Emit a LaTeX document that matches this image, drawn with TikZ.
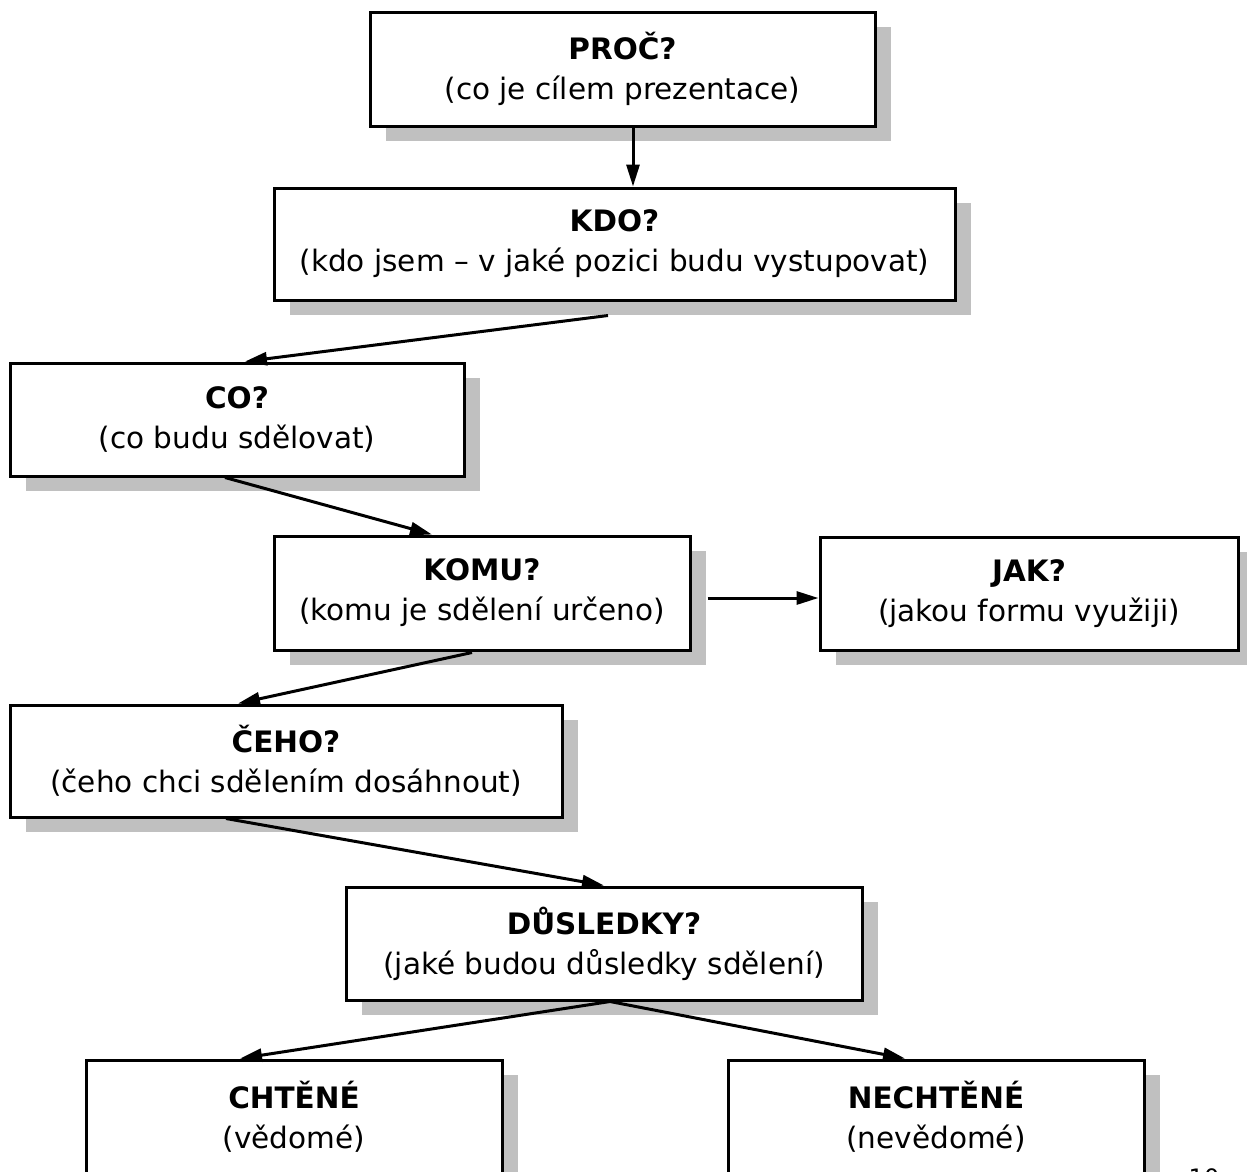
\documentclass[tikz,border=0pt]{standalone}
\usepackage{fontspec}
\setmainfont{DejaVu Sans}
\usetikzlibrary{calc,shadows,arrows.meta}
\definecolor{shadowgray}{HTML}{C0C0C0}
\tikzset{
  qbox/.style={draw=black, line width=3pt, fill=white, inner sep=0pt,
    align=center, font=\fontsize{29.5}{40}\selectfont,
    drop shadow={shadow xshift=16pt, shadow yshift=-15pt, fill=shadowgray, opacity=1}},
  conn/.style={line width=3pt, -{Triangle[length=22pt,width=13pt]}},
}
\begin{document}
\begin{tikzpicture}[x=1pt,y=-1pt]
\useasboundingbox (0,0) rectangle (1247,1171);
\clip (0,0) rectangle (1247,1171);
\node[qbox, minimum width=505pt, minimum height=114pt] (proc) at (622.5,69) {\textbf{PROČ?}\\(co je cílem prezentace)};
\node[qbox, minimum width=681pt, minimum height=112pt] (kdo) at (614.5,244) {\textbf{KDO?}\\(kdo jsem – v jaké pozici budu vystupovat)};
\node[qbox, minimum width=454pt, minimum height=113pt] (co) at (237,419.5) {\textbf{CO?}\\(co budu sdělovat)};
\node[qbox, minimum width=416pt, minimum height=114pt] (komu) at (482,593) {\textbf{KOMU?}\\(komu je sdělení určeno)};
\node[qbox, minimum width=418pt, minimum height=113pt] (jak) at (1029,593.5) {\textbf{JAK?}\\(jakou formu využiji)};
\node[qbox, minimum width=552pt, minimum height=112pt] (ceho) at (286,761) {\textbf{ČEHO?}\\(čeho chci sdělením dosáhnout)};
\node[qbox, minimum width=516pt, minimum height=113pt] (dus) at (604,943.5) {\textbf{DŮSLEDKY?}\\(jaké budou důsledky sdělení)};
\node[qbox, minimum width=416pt, minimum height=113pt] (cht) at (294,1116.5) {\textbf{CHTĚNÉ}\\(vědomé)};
\node[qbox, minimum width=416pt, minimum height=113pt] (necht) at (936,1116.5) {\textbf{NECHTĚNÉ}\\(nevědomé)};
\node[anchor=north, inner sep=0pt, font=\fontsize{24}{28}\selectfont] (page) at (1204,1168) {10};

\draw[conn] ($(proc.south)+(10.5,0)$) -- ($(kdo.north)+(18.5,0)$);
\draw[conn] ($(kdo.south)+(-6.5,14)$) -- ($(co.north)+(8,0)$);
\draw[conn] ($(co.south)+(-12,0)$) -- ($(komu.north)+(-50,0)$);
\draw[conn] ($(komu.east)+(16,5)$) -- ($(jak.west)+(0,4.5)$);
\draw[conn] ($(komu.south)+(-10,1)$) -- ($(ceho.north)+(-48,0)$);
\draw[conn] ($(ceho.south)+(-60,0)$) -- (dus.north);
\draw[conn] ($(dus.south)+(6,0)$) -- ($(cht.north)+(-54,0)$);
\draw[conn] ($(dus.south)+(6,0)$) -- ($(necht.north)+(-31,0)$);
\end{tikzpicture}
\end{document}
